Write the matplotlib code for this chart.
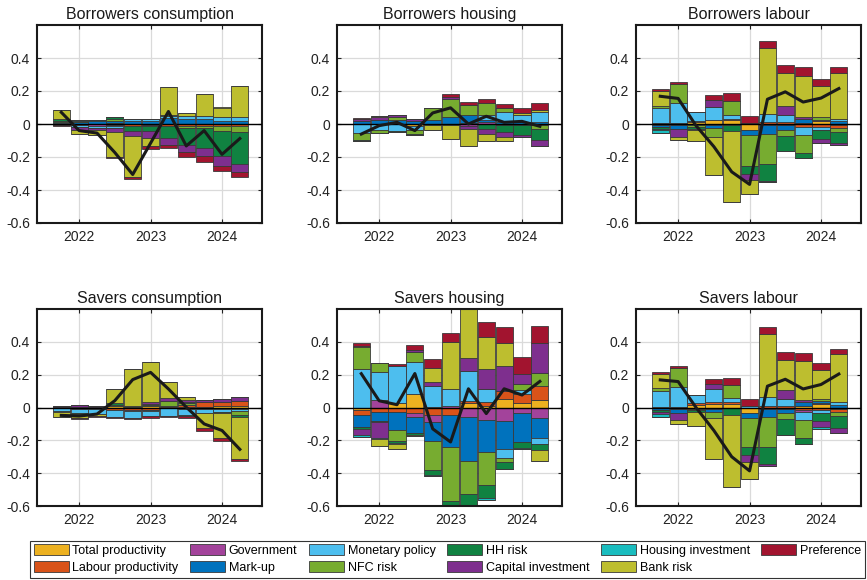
import numpy as np
import matplotlib
matplotlib.use("Agg")
import matplotlib.pyplot as plt
from matplotlib.patches import Patch

plt.rcParams['font.family'] = ['Liberation Sans', 'DejaVu Sans']
plt.rcParams['axes.unicode_minus'] = False

# quarters 2021Q4 .. 2024Q2 (plotted at year fraction)
quarters = [2021.75, 2022.0, 2022.25, 2022.5, 2022.75, 2023.0,
            2023.25, 2023.5, 2023.75, 2024.0, 2024.25]

shocks = ['Total productivity', 'Labour productivity', 'Government', 'Mark-up',
          'Monetary policy', 'NFC risk', 'HH risk', 'Capital investment',
          'Housing investment', 'Bank risk', 'Preference']
colors = ['#EDB120', '#D95319', '#A3439B', '#0072BD', '#4DBEEE', '#77AC30',
          '#108241', '#7E2F8E', '#1ABDBF', '#BDBE2F', '#A2142F']

titles = ['Borrowers consumption', 'Borrowers housing', 'Borrowers labour',
          'Savers consumption', 'Savers housing', 'Savers labour']

# rows follow the order of `shocks`, columns follow `quarters`
borrowers_consumption = [
    [0, 0, 0, 0.006, 0, 0, 0, 0, 0, 0, 0],
    [0, 0, 0, -0.008, -0.01, -0.005, -0.014, -0.01, -0.01, -0.01, -0.01],
    [0, -0.006, -0.01, -0.006, 0, -0.005, 0, 0, 0, 0, 0],
    [0.006, 0.015, 0.02, 0.012, 0.02, 0.02, 0.035, 0.03, 0.03, 0.016, 0.02],
    [0.004, -0.01, -0.014, -0.012, 0.013, 0.01, 0.012, 0.016, 0.016, 0.024, 0.02],
    [0.008, 0.005, 0, 0.014, 0, 0, 0.01, -0.012, -0.012, -0.03, -0.04],
    [0.012, 0, 0, 0.008, -0.03, -0.035, -0.071, -0.108, -0.125, -0.155, -0.19],
    [-0.004, -0.02, -0.01, -0.02, -0.03, -0.04, -0.041, -0.04, -0.047, -0.06, -0.05],
    [0, 0.005, 0.004, 0.004, 0, 0, 0, 0, 0, 0, 0],
    [0.055, -0.025, -0.035, -0.152, -0.25, -0.048, 0.167, 0.018, 0.137, 0.06, 0.19],
    [-0.006, 0, 0, -0.01, -0.016, -0.02, -0.02, -0.028, -0.035, -0.028, -0.03],
]
borrowers_housing = [
    [0, 0, 0, -0.015, 0, 0, 0.005, 0, 0, 0, 0],
    [0, 0, 0, 0, 0, 0, 0, 0, -0.006, -0.006, -0.008],
    [0, 0, 0, 0, -0.004, -0.005, -0.01, 0.01, 0, 0, 0],
    [0.02, 0.022, 0.025, 0.02, 0.027, 0.045, 0.05, 0.016, 0.015, 0.01, 0.01],
    [-0.055, -0.034, -0.045, -0.02, 0, 0, 0, 0.03, 0.06, 0.046, 0.06],
    [-0.04, -0.02, 0.02, -0.026, 0.07, 0.107, 0.062, 0.07, 0.02, 0, -0.02],
    [-0.008, 0, -0.006, -0.006, 0, 0, 0, -0.03, -0.04, -0.06, -0.07],
    [0.01, 0.02, 0.01, 0.01, 0, 0.014, -0.022, -0.028, -0.03, -0.012, -0.035],
    [0, 0, 0, 0, 0, 0, 0, 0, 0, 0, 0],
    [0, 0.008, 0, 0, -0.03, -0.087, -0.103, -0.046, -0.03, 0.01, 0.016],
    [0.006, 0, 0, 0, 0, 0.018, 0.018, 0.024, 0.026, 0.03, 0.04],
]
borrowers_labour = [
    [0.004, 0, 0.01, 0.022, 0.024, -0.034, 0, -0.008, 0.008, 0.018, -0.007],
    [-0.005, 0.005, 0.008, 0.004, 0.008, -0.005, 0.014, 0.012, -0.02, -0.016, -0.016],
    [0, -0.006, 0, -0.008, -0.005, 0, -0.005, 0, 0, 0.008, 0],
    [-0.012, -0.024, -0.008, -0.016, 0, -0.03, -0.058, -0.03, 0.02, 0, 0.016],
    [0.09, 0.125, 0.057, 0.075, 0.022, 0.008, 0.048, 0.045, -0.048, -0.022, 0.016],
    [0.018, 0.115, -0.01, -0.052, 0.085, -0.183, -0.18, -0.035, -0.105, 0.016, -0.024],
    [-0.012, 0, -0.012, 0, -0.04, -0.05, -0.1, -0.09, -0.035, -0.05, -0.067],
    [-0.008, -0.048, -0.006, 0.045, 0, -0.036, -0.007, 0.052, 0.016, -0.03, -0.016],
    [-0.016, 0, 0, 0, 0, 0, 0, 0, 0, 0, 0],
    [0.085, -0.02, -0.07, -0.232, -0.43, -0.087, 0.398, 0.2, 0.246, 0.186, 0.28],
    [0.018, 0.012, 0, 0.032, 0.046, 0.04, 0.042, 0.05, 0.054, 0.042, 0.034],
]
savers_consumption = [
    [0, 0, 0, 0.008, 0.006, 0.008, 0.006, 0.006, 0.006, 0.008, 0.008],
    [0, 0.006, 0.004, -0.018, -0.018, -0.016, 0.006, 0.012, 0.026, 0.026, 0.032],
    [0, 0, 0, 0, -0.005, 0, 0, 0, 0, 0, 0],
    [0.006, -0.01, -0.008, 0, 0, -0.007, -0.004, -0.008, -0.01, -0.008, -0.01],
    [-0.02, -0.024, -0.034, -0.04, -0.04, -0.03, -0.045, -0.035, -0.025, -0.02, -0.01],
    [0, 0, 0, 0.01, 0.004, 0.008, 0.03, 0.012, 0.004, 0, -0.028],
    [0, -0.005, 0, 0.008, 0, 0.006, 0, 0.004, 0, -0.005, -0.012],
    [0.006, 0.01, 0.006, 0, 0, 0.01, 0.014, 0.012, 0.012, 0.016, 0.025],
    [-0.005, 0, 0, 0, 0, 0, 0, -0.008, 0, 0, 0],
    [-0.03, -0.025, -0.008, 0.087, 0.224, 0.245, 0.1, 0.016, -0.09, -0.153, -0.253],
    [0, -0.005, -0.005, -0.005, -0.01, -0.01, -0.01, -0.012, -0.018, -0.02, -0.01],
]
savers_housing = [
    [-0.018, 0, 0.025, 0.08, 0.006, 0, 0.028, 0.01, 0.05, 0.025, 0.048],
    [-0.03, -0.03, -0.03, -0.036, -0.046, -0.045, 0.012, 0.025, 0.05, 0.06, 0.083],
    [0, 0.044, 0, -0.02, -0.04, 0.01, -0.06, -0.077, -0.083, -0.032, -0.067],
    [-0.07, -0.053, -0.107, -0.1, -0.117, -0.195, -0.265, -0.196, -0.17, -0.176, -0.12],
    [0.236, 0.17, 0.225, 0.196, 0.123, 0.1, 0.18, 0.08, -0.055, 0.02, -0.034],
    [0.13, 0.055, -0.067, 0.06, -0.176, -0.33, -0.2, -0.198, -0.024, 0.04, 0.079],
    [-0.01, -0.004, -0.012, -0.01, -0.03, -0.035, -0.08, -0.08, -0.042, -0.04, -0.04],
    [-0.04, -0.097, 0, 0.014, 0.028, 0, 0.08, 0.117, 0.15, 0.06, 0.184],
    [-0.01, -0.008, -0.008, 0, -0.01, 0, 0, -0.01, 0, -0.005, 0],
    [0.006, -0.042, -0.03, -0.01, 0.083, 0.29, 0.32, 0.198, 0.14, 0, -0.065],
    [0.022, 0.004, 0.015, 0.032, 0.055, 0.055, 0, 0.09, 0.1, 0.105, 0.1],
]
savers_labour = [
    [0.004, 0, 0.016, 0.022, 0.022, -0.032, 0, -0.01, 0.01, 0.02, -0.009],
    [-0.005, 0.006, 0.014, 0.01, 0.01, 0, 0.012, 0.01, -0.016, -0.014, -0.016],
    [0, -0.008, 0, -0.008, -0.005, 0, -0.008, 0, -0.01, 0.007, 0],
    [-0.012, -0.024, -0.008, -0.017, 0, -0.03, -0.052, -0.025, 0.026, 0.01, 0.016],
    [0.094, 0.117, 0.046, 0.08, 0.024, 0.008, 0.05, 0.042, -0.048, -0.02, 0.02],
    [0.02, 0.12, -0.01, -0.04, 0.08, -0.178, -0.182, -0.034, -0.11, 0.016, -0.028],
    [-0.012, 0, -0.012, 0, -0.04, -0.05, -0.1, -0.097, -0.036, -0.046, -0.073],
    [-0.01, -0.046, 0, 0.032, 0, -0.044, -0.012, 0.055, 0.012, -0.036, -0.028],
    [-0.016, 0, 0, 0, 0, 0, 0, 0, 0, -0.015, 0],
    [0.085, -0.022, -0.083, -0.25, -0.442, -0.103, 0.384, 0.184, 0.234, 0.176, 0.29],
    [0.016, 0.01, 0, 0.03, 0.046, 0.042, 0.044, 0.05, 0.05, 0.044, 0.032],
]

# black line: total deviation
borrowers_consumption_total = [0.071, -0.04, -0.055, -0.173, -0.306, -0.116, 0.076, -0.133, -0.04, -0.184, -0.088]
borrowers_housing_total = [-0.061, -0.01, 0.01, -0.04, 0.067, 0.098, 0.0, 0.047, 0.01, 0.016, -0.014]
borrowers_labour_total = [0.168, 0.155, -0.01, -0.137, -0.29, -0.366, 0.15, 0.195, 0.133, 0.157, 0.215]
savers_consumption_total = [-0.048, -0.052, -0.04, 0.042, 0.17, 0.214, 0.113, 0.002, -0.1, -0.14, -0.255]
savers_housing_total = [0.206, 0.041, 0.017, 0.207, -0.13, -0.21, 0.114, -0.037, 0.114, 0.076, 0.159]
savers_labour_total = [0.168, 0.158, 0.0, -0.14, -0.3, -0.386, 0.13, 0.172, 0.113, 0.14, 0.204]

contribs = [borrowers_consumption, borrowers_housing, borrowers_labour,
            savers_consumption, savers_housing, savers_labour]
totals = [borrowers_consumption_total, borrowers_housing_total, borrowers_labour_total,
          savers_consumption_total, savers_housing_total, savers_labour_total]

W, H = 867, 580
fig = plt.figure(figsize=(W / 100, H / 100), dpi=100)

lefts = [37, 337, 636]
rows = [(25, 198), (309, 197)]
x = np.array(quarters)

for k in range(6):
    r, c = divmod(k, 3)
    top, h = rows[r]
    ax = fig.add_axes([lefts[c] / W, 1 - (top + h) / H, 225 / W, h / H])
    data = np.array(contribs[k], dtype=float)
    pos_base = np.zeros(len(x))
    neg_base = np.zeros(len(x))
    for i in range(len(shocks)):
        v = data[i]
        p = np.where(v > 0, v, 0)
        n = np.where(v < 0, v, 0)
        ax.bar(x, p, bottom=pos_base, width=0.24, color=colors[i],
               edgecolor='#3a3a3a', linewidth=0.6, zorder=2)
        ax.bar(x, n, bottom=neg_base, width=0.24, color=colors[i],
               edgecolor='#3a3a3a', linewidth=0.6, zorder=2)
        pos_base += p
        neg_base += n
    ax.axhline(0, color='black', lw=1.0, zorder=3)
    ax.plot(x, totals[k], color='#1a1a1a', lw=2.2, zorder=4)

    ax.set_xlim(2021.41, 2024.56)
    ax.set_ylim(-0.6, 0.6)
    ax.set_xticks([2022, 2023, 2024])
    ax.set_xticklabels(['2022', '2023', '2024'])
    ax.set_yticks([-0.6, -0.4, -0.2, 0, 0.2, 0.4])
    ax.set_yticklabels(['-0.6', '-0.4', '-0.2', '0', '0.2', '0.4'])
    ax.grid(True, color='#dadada', lw=0.9)
    ax.set_axisbelow(True)
    ax.tick_params(direction='in', length=3, top=True, right=True,
                   labelsize=10, colors='#222222', pad=5)
    for s in ax.spines.values():
        s.set_linewidth(1.5)
        s.set_color('#1a1a1a')
    ax.set_title(titles[k], fontsize=11.5, pad=4, color='#1a1a1a')

handles = [Patch(facecolor=col, edgecolor='#3a3a3a', linewidth=0.6) for col in colors]
leg = fig.legend(handles, shocks, ncol=6, loc='center',
                 bbox_to_anchor=(30 / W, 1 - 578 / H, 835 / W, 38 / H),
                 mode='expand', fontsize=9, handlelength=2.8, handleheight=1.0,
                 handletextpad=0.3, labelspacing=0.3, borderpad=0.3,
                 borderaxespad=0, fancybox=False, edgecolor='black')
leg.get_frame().set_linewidth(0.8)

fig.savefig('out.png', dpi=100)
